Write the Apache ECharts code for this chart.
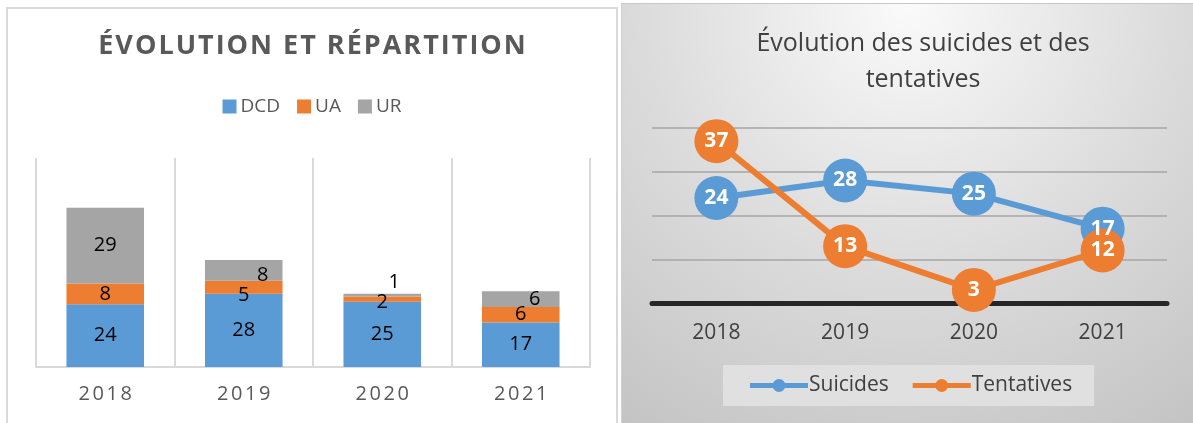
<!DOCTYPE html>
<html>
<head>
<meta charset="utf-8">
<script src="https://cdn.jsdelivr.net/npm/echarts@6/dist/echarts.min.js"></script>
<style>
body { margin: 0; width: 1193px; height: 423px; overflow: hidden; background: #fff; }
#chart1 { position: absolute; left: 6px; top: 7px; width: 608px; height: 418px; border: 2px solid #d9d9d9; border-bottom: none; }
#chart2 { position: absolute; left: 621px; top: 3px; width: 572px; height: 420px; border-top: 1px solid #c8c8c8; border-left: 1px solid #d0d0d0; }
</style>
</head>
<body>
<div id="chart1"></div>
<div id="chart2"></div>
<script>
// données
var years = ["2018", "2019", "2020", "2021"]
var dcd = [24, 28, 25, 17]
var ua = [8, 5, 2, 6]
var ur = [29, 8, 1, 6]
var suicides = [24, 28, 25, 17]
var tentatives = [37, 13, 3, 12]

var FONT = "'Open Sans', 'Noto Sans', sans-serif"

// petits décalages des étiquettes (comme dans Excel)
var labelTweaks = {
  UA: { 1: { offset: [0, 8] }, 2: { offset: [0, 3] } },
  UR: { 1: { offset: [19, 5] }, 2: { position: "top", offset: [12, 3] }, 3: { offset: [14, 0] } },
}

function stackData(name, values) {
  return values.map(function (v, i) {
    var t = (labelTweaks[name] || {})[i]
    return t ? { value: v, label: t } : v
  })
}

// espacement des lettres via rich text
function spaced(text, key) {
  return text.split("").map(function (c) {
    return "{" + key + "|" + c + "}"
  }).join("")
}

var chart1 = echarts.init(document.getElementById("chart1"))
chart1.setOption({
  animation: false,
  textStyle: { fontFamily: FONT },
  title: {
    text: spaced("ÉVOLUTION ET RÉPARTITION", "t"),
    left: "center",
    top: 19,
    textStyle: {
      rich: {
        t: { fontSize: 27, fontWeight: "bold", color: "#595959", fontFamily: FONT, padding: [0, 1, 0, 1] },
      },
    },
  },
  legend: {
    top: 83,
    left: "center",
    itemWidth: 14,
    itemHeight: 14,
    itemGap: 17,
    icon: "rect",
    textStyle: { fontSize: 19, color: "#595959", padding: [0, 0, 0, -1] },
    data: ["DCD", "UA", "UR"],
  },
  grid: { left: 28, top: 149, width: 554, height: 209, containLabel: false },
  xAxis: {
    type: "category",
    data: years,
    axisLine: { lineStyle: { color: "#d9d9d9", width: 2 } },
    axisTick: { show: false },
    splitLine: { show: true, interval: 0, lineStyle: { color: "#d9d9d9", width: 2 } },
    axisLabel: {
      interval: 0,
      margin: 17,
      fontSize: 20,
      color: "#595959",
      formatter: function (v) { return spaced(v, "y") },
      rich: { y: { fontSize: 20, color: "#595959", fontFamily: FONT, padding: [0, 1.3, 0, 1.3] } },
    },
  },
  yAxis: { type: "value", min: 0, max: 80, show: false },
  series: [
    { name: "DCD", type: "bar", stack: "a", data: stackData("DCD", dcd), itemStyle: { color: "#5b9bd5" } },
    { name: "UA", type: "bar", stack: "a", data: stackData("UA", ua), itemStyle: { color: "#ed7d31" } },
    { name: "UR", type: "bar", stack: "a", data: stackData("UR", ur), itemStyle: { color: "#a5a5a5" } },
  ].map(function (s) {
    s.barWidth = "56%"
    s.label = { show: true, position: "inside", color: "#000", fontSize: 20, fontFamily: FONT }
    return s
  }),
})

// icône de légende : trait épais + pastille
var lineIcon = "path://M0,4.5H58V9.5H0Z M22.5,7a6.5,6.5 0 1,1 13,0a6.5,6.5 0 1,1 -13,0Z"

var chart2 = echarts.init(document.getElementById("chart2"))
chart2.setOption({
  animation: false,
  backgroundColor: {
    type: "radial",
    x: 0.5,
    y: 0,
    r: 1.25,
    colorStops: [
      { offset: 0, color: "#fafafa" },
      { offset: 0.5, color: "#dcdcdc" },
      { offset: 1, color: "#c2c2c2" },
    ],
  },
  textStyle: { fontFamily: FONT },
  title: {
    text: "Évolution des suicides et des\ntentatives",
    left: 296,
    textAlign: "center",
    top: 17,
    textStyle: { fontSize: 25, fontWeight: "normal", color: "#404040", lineHeight: 36, fontFamily: FONT },
  },
  legend: {
    top: 361,
    left: 101,
    backgroundColor: "#e0e0e0",
    padding: [10, 22, 10, 27],
    icon: lineIcon,
    itemWidth: 58,
    itemHeight: 14,
    itemGap: 24,
    textStyle: { fontSize: 21, color: "#404040", padding: [0, 0, 0, -4] },
    data: ["Suicides", "Tentatives"],
  },
  grid: { left: 30, top: 124, width: 515, height: 175, containLabel: false },
  xAxis: {
    type: "category",
    data: years,
    axisLine: { lineStyle: { color: "#262626", width: 5 } },
    axisTick: { show: false },
    axisLabel: { fontSize: 21, color: "#404040", margin: 20 },
  },
  yAxis: {
    type: "value",
    min: 0,
    max: 40,
    interval: 10,
    axisLabel: { show: false },
    axisLine: { show: false },
    splitLine: { lineStyle: { color: "#a6a6a6", width: 1.5 } },
  },
  series: [
    { name: "Suicides", data: suicides, color: "#5b9bd5" },
    { name: "Tentatives", data: tentatives, color: "#ed7d31" },
  ].map(function (s) {
    s.type = "line"
    s.symbol = "circle"
    s.symbolSize = 44
    s.lineStyle = { width: 6 }
    s.label = { show: true, position: "inside", color: "#fff", fontSize: 21, fontWeight: "bold", fontFamily: FONT }
    return s
  }),
})
</script>
</body>
</html>
